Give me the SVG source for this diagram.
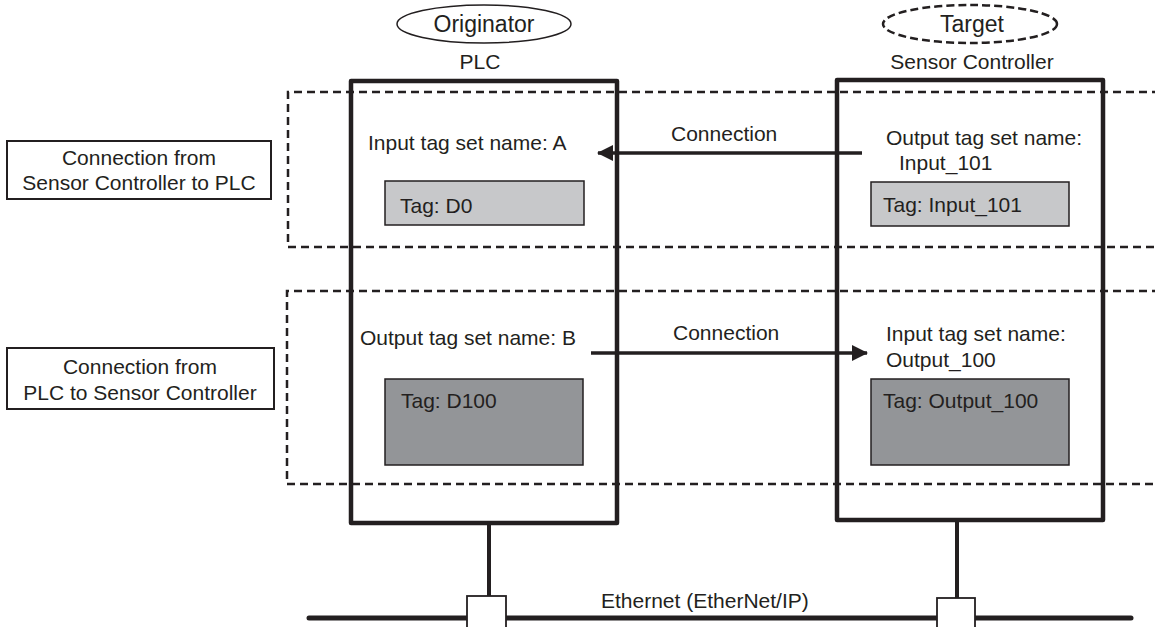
<svg xmlns="http://www.w3.org/2000/svg" width="1155" height="627" viewBox="0 0 1155 627">
<style>
text{font-family:"Liberation Sans",Arial,sans-serif;font-size:21px;fill:#231f20}
.big{font-size:23px}
.mid{text-anchor:middle}
.dev{fill:none;stroke:#231f20;stroke-width:4.5;stroke-linejoin:round}
.zone{fill:none;stroke:#231f20;stroke-width:2.5;stroke-dasharray:8 5}
.tagL{fill:#c7c8ca;stroke:#231f20;stroke-width:1.5}
.tagD{fill:#939598;stroke:#231f20;stroke-width:1.5}
.lbl{fill:#fff;stroke:#231f20;stroke-width:2}
.wire{stroke:#231f20;stroke-width:4;fill:none}
.arr{stroke:#231f20;stroke-width:3.5;fill:none}
.port{fill:#fff;stroke:#231f20;stroke-width:1.8}
</style>
<defs>
<marker id="ah" viewBox="0 0 16 16" refX="15" refY="8" markerWidth="16" markerHeight="16" markerUnits="userSpaceOnUse" orient="auto">
<path d="M0,0 L16,8 L0,16 Z" fill="#231f20"/>
</marker>
</defs>

<g id="zones">
<path class="zone" d="M1160,92 H288 V247 H1160"/>
<path class="zone" d="M1160,291 H287 V484 H1160"/>
</g>

<g id="originator-label">
<ellipse cx="484" cy="24" rx="87" ry="19" fill="#fff" stroke="#231f20" stroke-width="1.5"/>
<text class="big mid" x="484" y="32">Originator</text>
</g>
<g id="target-label">
<ellipse cx="970" cy="24" rx="87" ry="19" fill="#fff" stroke="#231f20" stroke-width="2.5" stroke-dasharray="8 4"/>
<text class="big mid" x="972" y="32">Target</text>
</g>

<g id="plc">
<text class="mid" x="480" y="69">PLC</text>
<rect class="dev" x="351" y="81" width="266" height="442"/>
<text x="368" y="150">Input tag set name: A</text>
<rect class="tagL" x="385" y="181" width="199" height="44"/>
<text x="400" y="213">Tag: D0</text>
<text x="360" y="345">Output tag set name: B</text>
<rect class="tagD" x="385" y="379" width="198" height="86"/>
<text x="401" y="408">Tag: D100</text>
</g>

<g id="sensor-controller">
<text class="mid" x="972" y="69">Sensor Controller</text>
<rect class="dev" x="837" y="80" width="266" height="440"/>
<text x="886" y="145">Output tag set name:</text>
<text x="899" y="170">Input_101</text>
<rect class="tagL" x="871" y="182" width="198" height="44"/>
<text x="883" y="212">Tag: Input_101</text>
<text x="886" y="341">Input tag set name:</text>
<text x="886" y="367">Output_100</text>
<rect class="tagD" x="871" y="379" width="198" height="86"/>
<text x="883" y="408">Tag: Output_100</text>
</g>

<g id="label-s2p">
<rect class="lbl" x="7" y="141" width="264" height="58"/>
<text class="mid" x="139" y="165">Connection from</text>
<text class="mid" x="139" y="190">Sensor Controller to PLC</text>
</g>
<g id="label-p2s">
<rect class="lbl" x="7" y="348" width="267" height="61"/>
<text class="mid" x="140" y="374">Connection from</text>
<text class="mid" x="140" y="400">PLC to Sensor Controller</text>
</g>

<g id="connectors">
<line class="arr" x1="862" y1="153" x2="598" y2="153" marker-end="url(#ah)"/>
<text x="671" y="141">Connection</text>
<line class="arr" x1="591" y1="353" x2="867" y2="353" marker-end="url(#ah)"/>
<text x="673" y="340">Connection</text>
<line class="wire" x1="489" y1="523" x2="489" y2="596"/>
<line class="wire" x1="957" y1="520" x2="957" y2="598"/>
<line x1="309" y1="618" x2="1131" y2="618" stroke="#231f20" stroke-width="5" stroke-linecap="round"/>
</g>

<g id="ethernet">
<rect class="port" x="467" y="596" width="39" height="32"/>
<rect class="port" x="937" y="598" width="38" height="32"/>
<text x="601" y="608">Ethernet (EtherNet/IP)</text>
</g>
</svg>
